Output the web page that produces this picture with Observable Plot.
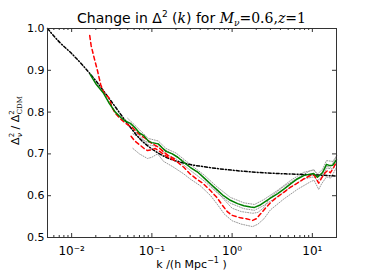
<!DOCTYPE html>
<html><head><meta charset="utf-8">
<script src="https://cdn.jsdelivr.net/npm/d3@7"></script>
<script src="https://cdn.jsdelivr.net/npm/@observablehq/plot@0.6"></script>
<style>body{margin:0;background:#fff}</style>
</head><body><div id="chart"></div>
<script>
// Theory (black dash-dot)
const kTheory = [0.005,0.007,0.01,0.014,0.02,0.03,0.05,0.07,0.1,0.15,0.25,0.5,1,2,5,10,20];
const yTheory = [1.0,0.968,0.940,0.910,0.875,0.830,0.772,0.737,0.712,0.692,0.678,0.668,0.661,0.656,0.652,0.650,0.647];

// Green (solid)
const kGreen = [0.017,0.02,0.025,0.029,0.035,0.041,0.047,0.054,0.062,0.07,0.08,0.091,0.1,0.12,0.135,0.15,0.18,0.21,0.26,0.3,0.38,0.45,0.54,0.65,0.78,0.95,1.17,1.4,1.7,1.9,2.2,2.5,3.0,3.7,4.5,5.4,6.5,7.8,9,10.4,11.6,12.5,13.4,15,16.5,18,20];
const yGreen = [0.890,0.868,0.845,0.823,0.800,0.787,0.778,0.773,0.762,0.750,0.743,0.730,0.727,0.724,0.714,0.706,0.700,0.692,0.677,0.668,0.655,0.642,0.628,0.614,0.600,0.589,0.581,0.576,0.573,0.572,0.577,0.584,0.594,0.605,0.617,0.629,0.640,0.648,0.651,0.653,0.644,0.650,0.655,0.675,0.672,0.673,0.686];

// Red dashed, large box (low k)
const kRed1 = [0.0168,0.0175,0.019,0.021,0.023,0.025,0.027,0.029,0.032,0.035,0.04,0.047,0.057,0.066,0.075,0.083,0.1,0.12,0.14,0.16,0.2];
const yRed1 = [0.983,0.959,0.931,0.899,0.866,0.848,0.840,0.835,0.811,0.797,0.785,0.773,0.763,0.751,0.742,0.737,0.725,0.716,0.705,0.696,0.686];

// Red dashed, small box
const kRed2 = [0.055,0.062,0.07,0.08,0.088,0.1,0.11,0.125,0.15,0.18,0.21,0.25,0.3,0.36,0.43,0.54,0.65,0.75,0.87,1.0,1.27,1.5,1.8,2.0,2.25,2.6,3.0,3.6,4.4,5.3,6.5,7.8,9.4,10.5,11.2,12,13,14.6,15.5,16.8,18.5,20];
const yRed2 = [0.742,0.730,0.722,0.713,0.708,0.710,0.713,0.706,0.695,0.687,0.680,0.668,0.652,0.640,0.630,0.612,0.595,0.578,0.562,0.553,0.547,0.545,0.541,0.545,0.556,0.570,0.583,0.596,0.608,0.620,0.630,0.640,0.648,0.650,0.640,0.630,0.642,0.656,0.660,0.655,0.668,0.682];

// Grey dotted error bands
const kRedBand = [0.058,0.07,0.088,0.1,0.118,0.14,0.18,0.25,0.3,0.4,0.54,0.65,0.8,1.0,1.3,1.8,2.1,2.5,3.0,4.4,6.5,9.4,10.5,12,13,15,17,20];
const yRedLo = [0.713,0.700,0.689,0.692,0.700,0.682,0.670,0.652,0.640,0.624,0.600,0.580,0.556,0.540,0.532,0.526,0.532,0.545,0.566,0.592,0.615,0.633,0.637,0.615,0.628,0.645,0.642,0.668];
const yRedHi = [0.748,0.738,0.728,0.727,0.724,0.712,0.700,0.683,0.668,0.652,0.625,0.610,0.590,0.570,0.562,0.558,0.560,0.572,0.597,0.622,0.642,0.660,0.662,0.645,0.655,0.670,0.668,0.695];
const kGreenBand = [0.05,0.07,0.09,0.12,0.15,0.2,0.3,0.45,0.65,0.95,1.4,1.9,2.5,3.7,5.4,7.8,10.4,11.6,13.4,15,18,20];
const yGreenHi = [0.785,0.758,0.737,0.731,0.713,0.702,0.675,0.649,0.621,0.596,0.583,0.579,0.591,0.613,0.637,0.656,0.661,0.652,0.663,0.684,0.682,0.695];
const yGreenLo = [0.768,0.743,0.722,0.717,0.699,0.688,0.661,0.635,0.607,0.582,0.569,0.565,0.577,0.598,0.621,0.640,0.645,0.636,0.647,0.666,0.664,0.678];

// Ticks
const xMajor = [0.01,0.1,1,10];
const xMinor = [0.005,0.006,0.007,0.008,0.009,0.02,0.03,0.04,0.05,0.06,0.07,0.08,0.09,0.2,0.3,0.4,0.5,0.6,0.7,0.8,0.9,2,3,4,5,6,7,8,9,20];
const yMajor = [0.5,0.6,0.7,0.8,0.9,1.0];

const rows = (ks, ys, s) => ks.map((k, i) => ({k, v: ys[i], s}));
const bands = [
  ...rows(kRedBand, yRedLo, "rl"), ...rows(kRedBand, yRedHi, "rh"),
  ...rows(kGreenBand, yGreenLo, "gl"), ...rows(kGreenBand, yGreenHi, "gh")
];
const supMap = {"-":"⁻","0":"⁰","1":"¹","2":"²","3":"³"};
const fmtPow = d => "10" + String(Math.round(Math.log10(d))).split("").map(c => supMap[c]).join("");

const W = 374, H = 280, mL = 47, mR = 38, mT = 28, mB = 43;
const pw = W - mL - mR, ph = H - mT - mB;

const plot = Plot.plot({
  width: W, height: H, marginLeft: mL, marginRight: mR, marginTop: mT, marginBottom: mB,
  style: {fontFamily: "DejaVu Sans", fontSize: "11px", background: "#fff", color: "#000"},
  x: {type: "log", domain: [0.005, 20]},
  y: {domain: [0.5, 1.0]},
  marks: [
    Plot.line(bands, {x: "k", y: "v", z: "s", stroke: "#999", strokeWidth: 1, strokeDasharray: "1,1.5"}),
    Plot.line(rows(kTheory, yTheory, "t"), {x: "k", y: "v", stroke: "#000", strokeWidth: 1.5, strokeDasharray: "3,2,1,2", curve: "monotone-x"}),
    Plot.line(rows(kRed1, yRed1, "r1"), {x: "k", y: "v", stroke: "#ff0000", strokeWidth: 1.5, strokeDasharray: "4,3"}),
    Plot.line(rows(kRed2, yRed2, "r2"), {x: "k", y: "v", stroke: "#ff0000", strokeWidth: 1.5, strokeDasharray: "4,3"}),
    Plot.line(rows(kGreen, yGreen, "g"), {x: "k", y: "v", stroke: "#008000", strokeWidth: 1.5}),
    Plot.frame({stroke: "#333", strokeWidth: 1}),
    Plot.tickX(xMajor, {x: d => d, insetTop: ph - 4, stroke: "#333"}),
    Plot.tickX(xMajor, {x: d => d, insetBottom: ph - 4, stroke: "#333"}),
    Plot.tickX(xMinor, {x: d => d, insetTop: ph - 2, stroke: "#333"}),
    Plot.tickX(xMinor, {x: d => d, insetBottom: ph - 2, stroke: "#333"}),
    Plot.tickY(yMajor, {y: d => d, insetRight: pw - 4, stroke: "#333"}),
    Plot.tickY(yMajor, {y: d => d, insetLeft: pw - 4, stroke: "#333"}),
    Plot.axisX({ticks: xMajor, tickSize: 0, tickPadding: 9, tickFormat: fmtPow, label: null, fontSize: 12}),
    Plot.axisY({ticks: yMajor, tickSize: 0, tickPadding: 3, tickFormat: d3.format(".1f"), label: null, fontSize: 11})
  ]
});

const svg = d3.select(plot);
// Title
const t = svg.append("text").attr("x", mL + pw / 2).attr("y", 23).attr("text-anchor", "middle")
  .attr("font-family", "DejaVu Sans").attr("font-size", 14).attr("fill", "#000");
t.append("tspan").text("Change in Δ");
t.append("tspan").attr("font-size", 9).attr("dy", -6).text("2");
t.append("tspan").attr("dy", 6).text(" (");
t.append("tspan").attr("font-family", "DejaVu Serif").attr("font-style", "italic").text("k");
t.append("tspan").text(") for ");
t.append("tspan").attr("font-family", "DejaVu Serif").attr("font-style", "italic").text("M");
t.append("tspan").attr("font-family", "DejaVu Serif").attr("font-style", "italic").attr("font-size", 9).attr("dy", 3).text("ν");
t.append("tspan").attr("font-family", "DejaVu Serif").attr("dy", -3).text("=0.6,");
t.append("tspan").attr("font-family", "DejaVu Serif").attr("font-style", "italic").text("z");
t.append("tspan").attr("font-family", "DejaVu Serif").text("=1");

// Y label
const yl = svg.append("text").attr("transform", `translate(19,${mT + ph / 2 - 12}) rotate(-90)`)
  .attr("text-anchor", "middle").attr("font-family", "DejaVu Sans").attr("font-size", 11).attr("fill", "#000");
yl.append("tspan").text("Δ");
yl.append("tspan").attr("font-size", 7).attr("dy", -5).text("2");
yl.append("tspan").attr("font-size", 7).attr("font-style", "italic").attr("dx", -4).attr("dy", 8).text("ν");
yl.append("tspan").attr("dy", -3).text(" / Δ");
yl.append("tspan").attr("font-size", 7).attr("dy", -5).text("2");
yl.append("tspan").attr("font-size", 7).attr("font-family", "DejaVu Serif").attr("dx", -4).attr("dy", 8).text("CDM");

// X label
const xl = svg.append("text").attr("x", mL + pw / 2).attr("y", 268).attr("text-anchor", "middle")
  .attr("font-family", "DejaVu Sans").attr("font-size", 11).attr("fill", "#000");
xl.append("tspan").text("k /(h Mpc");
xl.append("tspan").attr("font-size", 8).attr("dy", -5).text("−1");
xl.append("tspan").attr("dy", 5).text(" )");

document.getElementById("chart").append(plot);
</script>
</body></html>
